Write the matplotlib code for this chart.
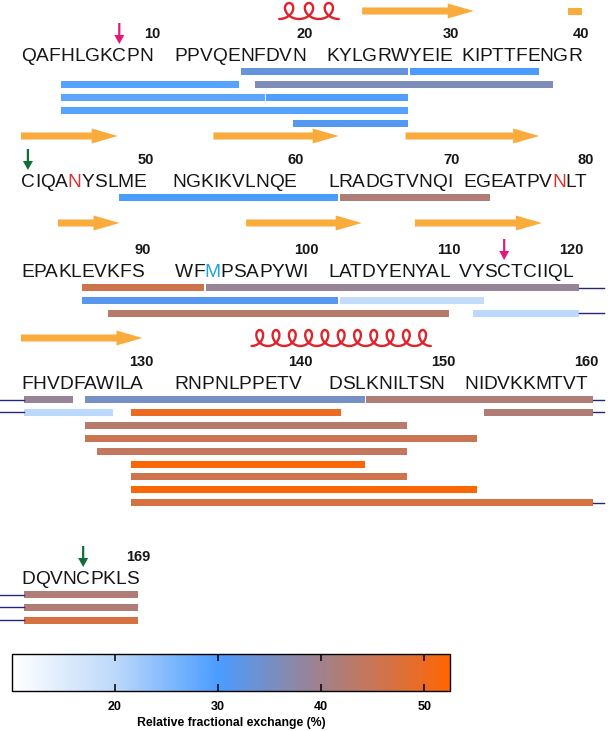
"""HDX peptide coverage map of the sequence with relative fractional exchange colours."""

import matplotlib

matplotlib.use("Agg")
import matplotlib.pyplot as plt
import numpy as np
from matplotlib import ft2font
from matplotlib.cm import ScalarMappable
from matplotlib.colors import LinearSegmentedColormap, Normalize
from matplotlib.font_manager import FontProperties, findfont, get_font
from matplotlib.patches import FancyArrow

# ---------------------------------------------------------------- data
SEQUENCE = (
    "QAFHLGKCPNPPVQENFDVNKYLGRWYEIEKIPTTFENGR"
    "CIQANYSLMENGKIKVLNQELRADGTVNQIEGEATPVNLT"
    "EPAKLEVKFSWFMPSAPYWILATDYENYALVYSCTCIIQL"
    "FHVDFAWILARNPNLPPETVDSLKNILTSNNIDVKKMTVT"
    "DQVNCPKLS"
)

# peptides: first residue, last residue, relative fractional exchange (%)
PEP_START = [16, 27, 4, 17, 4, 18, 4, 20, 49, 62, 86, 93, 86, 102, 88, 112,
             126, 144, 130, 153, 126, 126, 127, 130, 130, 130, 130]
PEP_END = [26, 37, 15, 38, 17, 26, 26, 26, 61, 72, 92, 124, 101, 112, 110, 127,
           143, 169, 141, 169, 147, 151, 147, 143, 147, 151, 169]
PEP_EXCHANGE = [33, 30, 29, 36, 28.5, 29.5, 29, 31, 30, 42, 46, 39, 31.5, 19, 43, 20,
                35, 42, 50, 42, 43, 45.5, 44.5, 52, 46, 52, 47]

# secondary structure (residue ranges)
STRANDS = [(24, 31), (40, 48), (54, 61), (67, 76), (84, 88), (96, 103), (108, 117), (121, 130)]
HELICES = [(19, 21), (137, 149)]

# disulfide cysteines and special residues
CYS_MARKS = [8, 41, 114, 165]
CYS_COLORS = ["#e3177c", "#0f6e36", "#e3177c", "#0f6e36"]
HIGHLIGHT_RES = [45, 78, 93]
HIGHLIGHT_COLORS = ["#e0302c", "#e0302c", "#1ba3de"]

CBAR_TICKS = [20, 30, 40, 50]

# ---------------------------------------------------------------- layout
PER_ROW = 40
ROW_BASELINE = [61, 187, 277, 389, 584]
BLOCK_X = [[21, 174, 326, 461], [21, 172, 328, 463], [21, 175, 328, 459],
           [21, 174, 328, 464], [21]]
SS_Y = [11, 136, 223, 338, None]
# lane of each peptide in every row it crosses
PEP_LANES = [(0,), (0,), (1,), (1,), (2,), (2,), (3,), (4,), (0,), (0,), (0,), (0, 0),
             (1,), (1,), (2,), (2, 1), (0,), (0, 0), (1,), (1, 1), (2,), (3,), (4,),
             (5,), (6,), (7,), (8, 2)]
LANE0, LANE_STEP, BAR_H = 10.5, 12.9, 7.0
WRAP_RIGHT, WRAP_LEFT = 604, 0

SEQ_SIZE = 13.8
STRAND_COLOR = "#f9ab3c"
HELIX_COLOR = "#e0222a"
WRAP_COLOR = "#27277a"

CMAP_STOPS = [10, 20, 30, 40, 50, 52.5]
CMAP_COLORS = ["#ffffff", "#bcd8fa", "#4a9cff", "#a1818b", "#ec6b22", "#ff6500"]


def residue_positions(dpi):
    """Pen left/right of every residue, from the font's advances and kerning."""
    try:
        no_hint = ft2font.LoadFlags.NO_HINTING
        kern_mode = ft2font.Kerning.DEFAULT
    except AttributeError:
        no_hint = ft2font.LOAD_NO_HINTING
        kern_mode = ft2font.KERNING_DEFAULT
    font = get_font(findfont(FontProperties(family="Liberation Sans")))
    font.set_size(SEQ_SIZE, dpi)

    left = np.zeros(len(SEQUENCE))
    right = np.zeros(len(SEQUENCE))
    for i, ch in enumerate(SEQUENCE):
        r, p = divmod(i, PER_ROW)
        b, j = divmod(p, 10)
        idx = font.get_char_index(ord(ch))
        if j == 0:
            x = BLOCK_X[r][b]
        else:
            x = right[i - 1] + font.get_kerning(prev_idx, idx, kern_mode) / 64
        g = font.load_glyph(idx, flags=no_hint)
        left[i] = x
        right[i] = x + g.linearHoriAdvance / 65536
        prev_idx = idx
    return left, right


def main():
    dpi = 100
    fig = plt.figure(figsize=(6.14, 7.31), dpi=dpi)
    ax = fig.add_axes([0, 0, 1, 1])
    ax.set_xlim(0, 614)
    ax.set_ylim(731, 0)
    ax.axis("off")

    left, right = residue_positions(dpi)
    norm = Normalize(CMAP_STOPS[0], CMAP_STOPS[-1])
    cmap = LinearSegmentedColormap.from_list(
        "hdx", list(zip(norm(np.array(CMAP_STOPS)), CMAP_COLORS))
    )

    # sequence letters
    for i, ch in enumerate(SEQUENCE):
        r = i // PER_ROW
        color = "#161616"
        if i + 1 in HIGHLIGHT_RES:
            color = HIGHLIGHT_COLORS[HIGHLIGHT_RES.index(i + 1)]
        ax.text((left[i] + right[i]) / 2, ROW_BASELINE[r], ch, ha="center",
                va="baseline", fontsize=SEQ_SIZE, family="Liberation Sans", color=color)

    # residue numbers at the end of each block
    for i in range(len(SEQUENCE)):
        res = i + 1
        if res % 10 == 0 or res == len(SEQUENCE):
            r = i // PER_ROW
            ax.text(right[i] - 1, ROW_BASELINE[r] - 23, str(res), ha="center",
                    va="baseline", fontsize=10.5, fontweight="bold",
                    family="Liberation Sans", color="#161616")

    # peptide bars, split over rows
    for s, e, v, lanes in zip(PEP_START, PEP_END, PEP_EXCHANGE, PEP_LANES):
        first_row = (s - 1) // PER_ROW
        for k, lane in enumerate(lanes):
            r = first_row + k
            a = max(s, r * PER_ROW + 1)
            b = min(e, (r + 1) * PER_ROW)
            y = ROW_BASELINE[r] + LANE0 + lane * LANE_STEP
            x0 = left[a - 1] + 1 if a == s else left[a - 1] + 3
            x1 = right[b - 1] - 0.5 if b == e else right[b - 1] + 6
            ax.barh(y, x1 - x0, left=x0, height=BAR_H, color=cmap(norm(v)), lw=0)
            if b < e:
                ax.plot([x1, WRAP_RIGHT], [y, y], color=WRAP_COLOR, lw=1.0)
            if a > s:
                ax.plot([WRAP_LEFT, x0], [y, y], color=WRAP_COLOR, lw=1.0)

    # beta strands
    for s, e in STRANDS:
        r0, r1 = (s - 1) // PER_ROW, (e - 1) // PER_ROW
        for r in range(r0, r1 + 1):
            a = max(s, r * PER_ROW + 1)
            b = min(e, (r + 1) * PER_ROW)
            x0, x1 = left[a - 1], right[b - 1]
            y = SS_Y[r]
            if r == r1:
                ax.add_patch(FancyArrow(x0, y, x1 - x0, 0, width=7, head_width=15,
                                        head_length=min(26, 0.45 * (x1 - x0)),
                                        length_includes_head=True,
                                        color=STRAND_COLOR, lw=0))
            else:
                ax.barh(y, x1 - x0, left=x0, height=7, color=STRAND_COLOR, lw=0)

    # helices
    for s, e in HELICES:
        r = (s - 1) // PER_ROW
        x0, x1 = left[s - 1], right[e - 1]
        n = int(round(0.85 * (e - s + 1)))
        theta = np.linspace(-np.pi, 2 * np.pi * (n - 1) + np.pi, 60 * n)
        c = (x1 - x0) / (2 * np.pi * n)
        hx = x0 + c * (theta + np.pi) - 2.7 * c * np.sin(theta)
        hy = SS_Y[r] - 8 * np.cos(theta)
        ax.plot(hx, hy, color=HELIX_COLOR, lw=1.7, solid_capstyle="round")

    # disulfide cysteine arrows
    for res, color in zip(CYS_MARKS, CYS_COLORS):
        r = (res - 1) // PER_ROW
        xc = (left[res - 1] + right[res - 1]) / 2
        top = ROW_BASELINE[r] - 38
        ax.add_patch(FancyArrow(xc, top, 0, 21, width=2.2, head_width=10,
                                head_length=9, length_includes_head=True,
                                color=color, lw=0))

    # colour bar
    cax = fig.add_axes([12 / 614, 1 - 691 / 731, 438 / 614, 37 / 731])
    cb = fig.colorbar(ScalarMappable(norm=norm, cmap=cmap), cax=cax,
                      orientation="horizontal", ticks=CBAR_TICKS)
    cb.outline.set_linewidth(1.0)
    cax.tick_params(direction="in", length=5, width=1.1, top=True, bottom=True,
                    labelsize=9, pad=7)
    for lab in cax.get_xticklabels():
        lab.set_fontweight("bold")
        lab.set_family("Liberation Sans")
    cax.set_xlabel("Relative fractional exchange (%)", fontsize=8.8,
                   fontweight="bold", family="Liberation Sans", labelpad=3)

    fig.savefig("out.png", dpi=dpi)


if __name__ == "__main__":
    main()
